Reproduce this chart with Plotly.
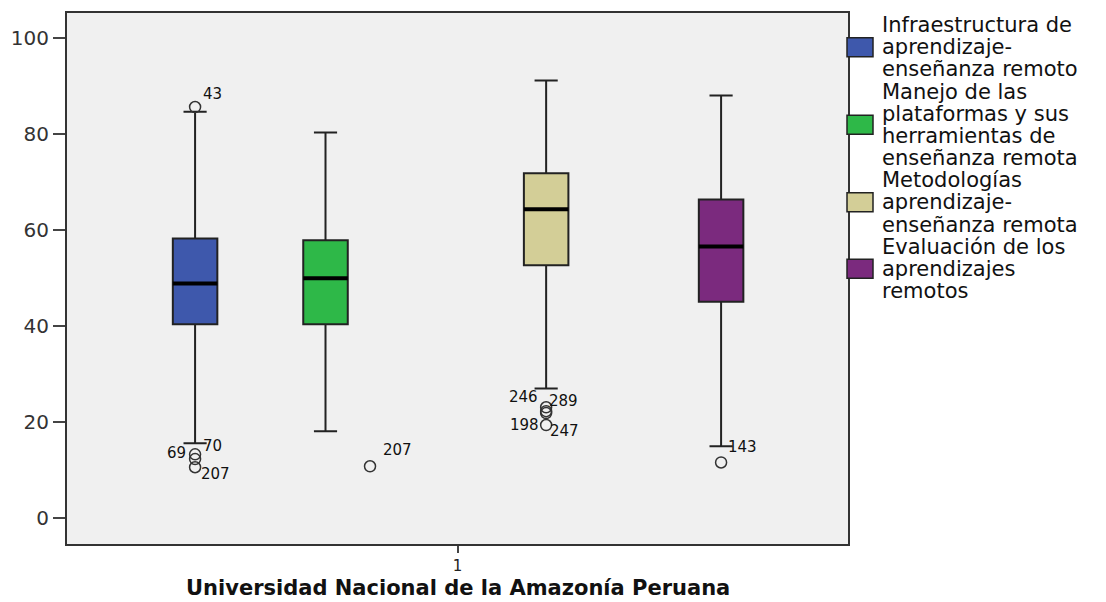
import plotly.graph_objects as go

# Dimension names (legend) and their box-plot summaries
dimensions = [
    "Infraestructura de aprendizaje-enseñanza remoto",
    "Manejo de las plataformas y sus herramientas de enseñanza remota",
    "Metodologías aprendizaje-enseñanza remota",
    "Evaluación de los aprendizajes remotos",
]
legend_lines = [
    ["Infraestructura de", "aprendizaje-", "enseñanza remoto"],
    ["Manejo de las", "plataformas y sus", "herramientas de", "enseñanza remota"],
    ["Metodologías", "aprendizaje-", "enseñanza remota"],
    ["Evaluación de los", "aprendizajes", "remotos"],
]
q1 = [40.4, 40.4, 52.7, 45.1]
median = [48.9, 50.0, 64.4, 56.6]
q3 = [58.3, 57.9, 71.9, 66.4]
lower_whisker = [15.6, 18.1, 27.0, 15.0]
upper_whisker = [84.7, 80.4, 91.25, 88.1]

# Outliers: (dimension index, value, case id)
outlier_dim = [0, 0, 0, 0, 1, 2, 2, 2, 2, 3]
outlier_val = [85.7, 13.3, 12.3, 10.6, 10.8, 23.1, 22.3, 21.9, 19.4, 11.6]
outlier_id = ["43", "69", "70", "207", "207", "246", "289", "198", "247", "143"]

category_labels = ["1"]
x_title = "Universidad Nacional de la Amazonía Peruana"

colors = ["#3E58AC", "#2EB848", "#D3CE97", "#7B2A7E"]

# Layout of the clustered boxes along the single category
box_pos = [0.328, 0.662, 1.227, 1.675]
box_width = 0.114
outlier_x_shift = [0.0, 0.114, 0.0, 0.0]
# pixel offsets of the case-id labels relative to each outlier point
label_shift = [(17, 13), (-19, 1), (17, 13), (20, -7), (27, 16),
               (-23, 10), (17, 10), (-22, -12), (18, -6), (21, 15)]

W, H = 1106, 602
L, R, T, B = 67, 258, 13, 58
plot_w = W - L - R
plot_h = H - T - B


def px_x(px):
    return (px - L) / plot_w


def px_y(py):
    return (H - B - py) / plot_h


fig = go.Figure()

for i, name in enumerate(dimensions):
    fig.add_trace(go.Box(
        x=[box_pos[i]], q1=[q1[i]], median=[median[i]], q3=[q3[i]],
        lowerfence=[lower_whisker[i]], upperfence=[upper_whisker[i]],
        width=box_width, whiskerwidth=0.52, boxpoints=False,
        fillcolor=colors[i], line=dict(color="#222222", width=2),
        name=name, showlegend=False, hoverinfo="skip",
    ))
    # thick median bar
    fig.add_trace(go.Scatter(
        x=[box_pos[i] - box_width / 2, box_pos[i] + box_width / 2],
        y=[median[i], median[i]], mode="lines",
        line=dict(color="#000000", width=4), showlegend=False, hoverinfo="skip",
    ))

ox = [box_pos[d] + outlier_x_shift[d] for d in outlier_dim]
fig.add_trace(go.Scatter(
    x=ox, y=outlier_val, mode="markers",
    marker=dict(symbol="circle-open", size=11, color="#333333", line=dict(width=1.5)),
    showlegend=False, hoverinfo="skip",
))

annotations = []
for k in range(len(outlier_val)):
    dx, dy = label_shift[k]
    annotations.append(dict(
        x=ox[k], y=outlier_val[k], xref="x", yref="y", text=outlier_id[k],
        showarrow=False, xshift=dx, yshift=dy,
        font=dict(family="DejaVu Sans", size=15, color="#111111"),
    ))

# Legend: colour swatches plus wrapped labels
line_y0, line_step = 25, 22.17
line_idx = 0
shapes = []
for i, lines in enumerate(legend_lines):
    first = line_idx
    for text in lines:
        annotations.append(dict(
            x=px_x(880), y=px_y(line_y0 + line_step * line_idx), xref="paper", yref="paper",
            text=text, showarrow=False, xanchor="left", yanchor="middle",
            font=dict(family="DejaVu Sans", size=21, color="#111111"),
        ))
        line_idx += 1
    cy = line_y0 + line_step * (first + line_idx - 1) / 2
    shapes.append(dict(
        type="rect", xref="paper", yref="paper",
        x0=px_x(847), x1=px_x(873), y0=px_y(cy - 9.5), y1=px_y(cy + 9.5),
        fillcolor=colors[i], line=dict(color="#222222", width=1.5),
    ))

# Axis title below the category tick
annotations.append(dict(
    x=0.5, y=px_y(602), xref="paper", yref="paper", text="<b>" + x_title + "</b>",
    showarrow=False, xanchor="center", yanchor="bottom",
    font=dict(family="DejaVu Sans", size=21, color="#111111"),
))

fig.update_layout(
    width=W, height=H,
    margin=dict(l=L, r=R, t=T, b=B),
    paper_bgcolor="#FFFFFF", plot_bgcolor="#F0F0F0",
    annotations=annotations, shapes=shapes,
    font=dict(family="DejaVu Sans", color="#222222"),
)
fig.update_xaxes(
    range=[0, 2], tickvals=[1], ticktext=category_labels,
    ticks="outside", ticklen=7, tickwidth=2, tickcolor="#444444",
    tickfont=dict(size=15, color="#222222"),
    showline=True, linecolor="#333333", linewidth=2, mirror=True,
    showgrid=False, zeroline=False, automargin=False,
)
fig.update_yaxes(
    range=[-5.4, 105.3], tickvals=[0, 20, 40, 60, 80, 100],
    ticks="outside", ticklen=12, tickwidth=2, tickcolor="#444444",
    tickfont=dict(size=20, color="#333333"),
    showline=True, linecolor="#333333", linewidth=2, mirror=True,
    showgrid=False, zeroline=False, automargin=False,
)

fig.write_html("out.html")
